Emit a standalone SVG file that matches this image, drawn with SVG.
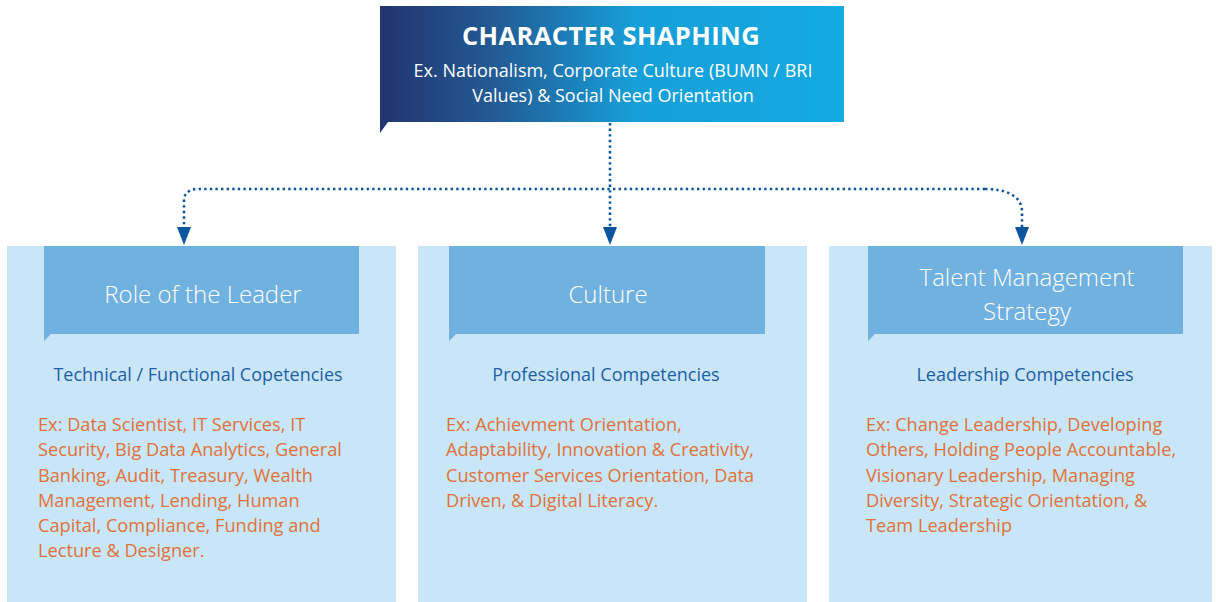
<svg xmlns="http://www.w3.org/2000/svg" width="1216" height="602" viewBox="0 0 1216 602">
  <defs>
    <linearGradient id="topGrad" x1="0" y1="0" x2="1" y2="0">
      <stop offset="0" stop-color="#22346f"/>
      <stop offset="0.25" stop-color="#235b95"/>
      <stop offset="0.55" stop-color="#169fd8"/>
      <stop offset="1" stop-color="#14aae2"/>
    </linearGradient>
    <marker id="arrow" markerWidth="18" markerHeight="14" refX="0" refY="7" orient="auto" markerUnits="userSpaceOnUse" viewBox="0 0 18 14">
      <path d="M0,0 L18,7 L0,14 Z" fill="#0b559f"/>
    </marker>
    <style>
      .panel { fill: #c9e6f8; }
      .tab { fill: #70b1e0; }
      .hdr { font-family: "Open Sans", "Noto Sans", sans-serif; font-weight: 300; font-size: 24px; fill: #ffffff; text-anchor: middle; }
      .sub { font-family: "Open Sans", "Noto Sans", sans-serif; font-size: 18px; fill: #1d5ea8; text-anchor: middle; }
      .ex { font-family: "Open Sans", "Noto Sans", sans-serif; font-size: 18.2px; fill: #e07236; }
      .title { font-family: "Open Sans", "Noto Sans", sans-serif; font-weight: 700; font-size: 25.5px; letter-spacing: 0.4px; fill: #ffffff; text-anchor: middle; }
      .tsub { font-family: "Open Sans", "Noto Sans", sans-serif; font-size: 18px; fill: #ffffff; text-anchor: middle; }
      .dot { fill: none; stroke: #0b559f; stroke-width: 2.6; stroke-dasharray: 2.4 3.2; }
    </style>
  </defs>

  <g id="top-node">
    <path d="M380,6 H844 V122 H388 L380,133 Z" fill="url(#topGrad)"/>
    <text class="title" x="611" y="45">CHARACTER SHAPHING</text>
    <text class="tsub" x="613" y="77">Ex. Nationalism, Corporate Culture (BUMN / BRI</text>
    <text class="tsub" x="613" y="102">Values) &amp; Social Need Orientation</text>
  </g>

  <g id="connectors">
    <path class="dot" d="M610,123 V227" marker-end="url(#arrow)"/>
    <path class="dot" d="M985,189 H198 C190,189 184,193 184,200 V227" marker-end="url(#arrow)"/>
    <path class="dot" d="M985,189 C1005,189 1022,195 1022,212 V227" marker-end="url(#arrow)"/>
  </g>

  <g id="role-of-the-leader">
    <rect class="panel" x="7" y="246" width="389" height="356"/>
    <path class="tab" d="M44,246 H359 V334 H51 L44,341 Z"/>
    <text class="hdr" x="203" y="303">Role of the Leader</text>
    <text class="sub" x="198" y="381">Technical / Functional Copetencies</text>
    <text class="ex" x="38" y="431">Ex: Data Scientist, IT Services, IT</text>
    <text class="ex" x="38" y="456">Security, Big Data Analytics, General</text>
    <text class="ex" x="38" y="482">Banking, Audit, Treasury, Wealth</text>
    <text class="ex" x="38" y="507">Management, Lending, Human</text>
    <text class="ex" x="38" y="532">Capital, Compliance, Funding and</text>
    <text class="ex" x="38" y="557">Lecture &amp; Designer.</text>
  </g>

  <g id="culture">
    <rect class="panel" x="418" y="246" width="389" height="356"/>
    <path class="tab" d="M449,246 H765 V334 H456 L449,341 Z"/>
    <text class="hdr" x="608" y="303">Culture</text>
    <text class="sub" x="606" y="381">Professional Competencies</text>
    <text class="ex" x="446" y="431">Ex: Achievment Orientation,</text>
    <text class="ex" x="446" y="456">Adaptability, Innovation &amp; Creativity,</text>
    <text class="ex" x="446" y="482">Customer Services Orientation, Data</text>
    <text class="ex" x="446" y="507">Driven, &amp; Digital Literacy.</text>
  </g>

  <g id="talent-management-strategy">
    <rect class="panel" x="829" y="246" width="383" height="356"/>
    <path class="tab" d="M868,246 H1183 V334 H875 L868,341 Z"/>
    <text class="hdr" x="1027" y="286">Talent Management</text>
    <text class="hdr" x="1027" y="320">Strategy</text>
    <text class="sub" x="1025" y="381">Leadership Competencies</text>
    <text class="ex" x="866" y="431">Ex: Change Leadership, Developing</text>
    <text class="ex" x="866" y="456">Others, Holding People Accountable,</text>
    <text class="ex" x="866" y="482">Visionary Leadership, Managing</text>
    <text class="ex" x="866" y="507">Diversity, Strategic Orientation, &amp;</text>
    <text class="ex" x="866" y="532">Team Leadership</text>
  </g>
</svg>
